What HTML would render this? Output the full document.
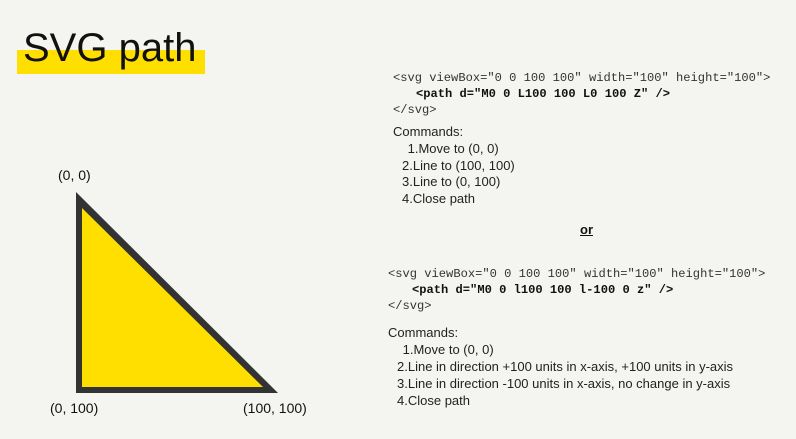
<!DOCTYPE html>
<html><head><meta charset="utf-8"><style>
body{margin:0;width:796px;height:439px;background:#f4f4f0;position:relative;overflow:hidden;font-family:"Liberation Sans",sans-serif;color:#111}
.a{position:absolute;white-space:pre;line-height:1}
.m{font-family:"Liberation Mono",monospace;font-size:12.1px;color:#333}
.s{font-size:13px;color:#222}
</style></head><body>
<div style="position:absolute;left:17px;top:50px;width:188px;height:24px;background:#ffdf00"></div>
<div class="a" style="left:23px;top:28px;font-size:40px;color:#111">SVG path</div>
<svg style="position:absolute;left:0;top:0" width="796" height="439">
<polygon points="76,192 278,393 76,393" fill="#333"/>
<polygon points="82,208 263,387 82,387" fill="#ffdf00"/>
</svg>
<div class="a" style="left:58px;top:168px;font-size:14px">(0, 0)</div>
<div class="a" style="left:50px;top:401px;font-size:14px">(0, 100)</div>
<div class="a" style="left:243px;top:401px;font-size:14px">(100, 100)</div>

<div class="a m" style="left:393px;top:72px">&lt;svg viewBox="0 0 100 100" width="100" height="100"&gt;</div>
<div class="a m" style="left:416px;top:88px;font-weight:bold;color:#111">&lt;path d="M0 0 L100 100 L0 100 Z" /&gt;</div>
<div class="a m" style="left:393px;top:104px">&lt;/svg&gt;</div>
<div class="a s" style="left:393px;top:125px">Commands:</div>
<div class="a s" style="left:404px;top:142px"> 1.Move to (0, 0)</div>
<div class="a s" style="left:402px;top:159px">2.Line to (100, 100)</div>
<div class="a s" style="left:402px;top:175px">3.Line to (0, 100)</div>
<div class="a s" style="left:402px;top:192px">4.Close path</div>

<div class="a" style="left:580px;top:223px;font-size:13px;font-weight:bold;text-decoration:underline">or</div>

<div class="a m" style="left:388px;top:268px">&lt;svg viewBox="0 0 100 100" width="100" height="100"&gt;</div>
<div class="a m" style="left:412px;top:284px;font-weight:bold;color:#111">&lt;path d="M0 0 l100 100 l-100 0 z" /&gt;</div>
<div class="a m" style="left:388px;top:300px">&lt;/svg&gt;</div>
<div class="a s" style="left:388px;top:326px">Commands:</div>
<div class="a s" style="left:399px;top:343px"> 1.Move to (0, 0)</div>
<div class="a s" style="left:397px;top:360px">2.Line in direction +100 units in x-axis, +100 units in y-axis</div>
<div class="a s" style="left:397px;top:377px">3.Line in direction -100 units in x-axis, no change in y-axis</div>
<div class="a s" style="left:397px;top:394px">4.Close path</div>
</body></html>
